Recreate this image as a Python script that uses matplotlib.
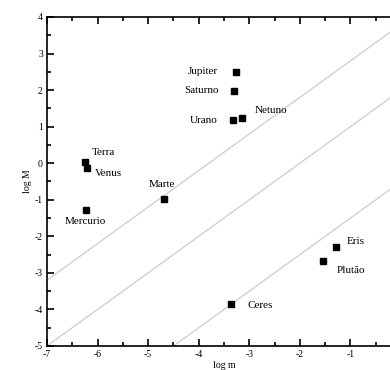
import numpy as np
import matplotlib
matplotlib.use("Agg")
import matplotlib.pyplot as plt
from matplotlib.ticker import MultipleLocator

plt.rcParams['font.family'] = ['Liberation Serif', 'DejaVu Serif']
plt.rcParams['axes.unicode_minus'] = False

# dados
nomes = ["Jupiter", "Saturno", "Urano", "Netuno", "Terra", "Venus",
         "Marte", "Mercurio", "Ceres", "Plutão", "Eris"]
log_m = [-3.27, -3.30, -3.33, -3.15, -6.25, -6.21, -4.68, -6.22, -3.36, -1.55, -1.29]
log_M = [2.50, 1.98, 1.17, 1.24, 0.02, -0.12, -0.97, -1.27, -3.84, -2.67, -2.29]

# retas de inclinacao 1 (log M = log m + c)
interceptos = [3.8, 2.0, -0.5]

# ticks com rotulo no eixo x
xticks = [-7, -6, -5, -4, -3, -2, -1]

# deslocamento dos rotulos (pontos) e alinhamento
rotulos = {
    "Jupiter": (-13, 0, "right"),
    "Saturno": (-11, 0, "right"),
    "Urano": (-11, 0, "right"),
    "Netuno": (9.5, 5.5, "left"),
    "Terra": (5, 7, "left"),
    "Venus": (6, -4.5, "left"),
    "Marte": (-11, 10, "left"),
    "Mercurio": (-15.5, -8.5, "left"),
    "Ceres": (12, -1.5, "left"),
    "Plutão": (10, -7, "left"),
    "Eris": (8, 3.6, "left"),
}

fig = plt.figure(figsize=(3.9, 3.7), dpi=100)
ax = fig.add_axes([47 / 390, 24 / 370, 354 / 390, 329 / 370])

x = np.array([-7.0, 0.0])
for c in interceptos:
    ax.plot(x, x + c, color="#cccccc", lw=0.9, zorder=1)

ax.plot(log_m, log_M, "s", color="black", ms=4.2, zorder=3)

for nome, xm, ym in zip(nomes, log_m, log_M):
    dx, dy, ha = rotulos[nome]
    ax.annotate(nome, (xm, ym), xytext=(dx, dy), textcoords="offset points",
                ha=ha, va="center", fontsize=8)

ax.set_xlim(-7, 0)
ax.set_ylim(-5, 4)
ax.set_xticks(xticks)
ax.xaxis.set_minor_locator(MultipleLocator(0.5))
ax.yaxis.set_major_locator(MultipleLocator(1))
ax.yaxis.set_minor_locator(MultipleLocator(0.5))
ax.tick_params(which="both", direction="in", top=True, right=False,
               labelsize=7, width=1.2, pad=3)
ax.tick_params(which="major", length=5)
ax.tick_params(which="minor", length=3)
for s in ax.spines.values():
    s.set_linewidth(1.2)

ax.set_xlabel("log m", fontsize=7, labelpad=1)
ax.set_ylabel("log M", fontsize=7, labelpad=2)

fig.savefig("out.png", dpi=100)
